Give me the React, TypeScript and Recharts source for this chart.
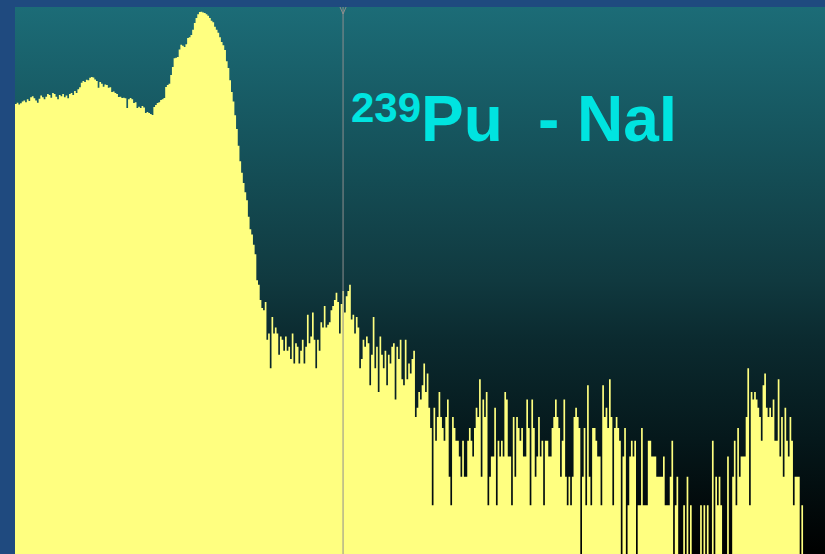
import { Area, AreaChart, ReferenceLine, XAxis, YAxis } from "recharts";

// counts per channel (log display: height ~ log10(counts + 1))
const lowEnergyCounts = [
  600, 610, 595, 605, 620, 630, 615, 640, 625, 660, 670, 650, 630, 610, 645, 675, 660, 640, 665, 690,
  680, 655, 700, 690, 665, 640, 680, 670, 690, 660, 675, 650, 690, 700, 680, 720, 700, 740,
];

const humpCounts = [
  760, 810, 830, 820, 845, 840, 870, 880, 875, 850, 830, 755, 820, 800, 765, 790, 785, 755, 760, 711,
  715, 700, 690, 662, 665, 652, 655, 650, 566, 640, 652, 640, 607, 615, 566, 575, 566, 582, 570, 527,
  535, 527, 520, 513, 574, 590, 607, 615, 634, 640, 652, 763, 786, 800, 905,
];

const peakCounts = [
  1014, 1150, 1155, 1170, 1300, 1390, 1370, 1350, 1400, 1530, 1550, 1600, 1720, 1900, 2040, 2150, 2220,
  2225, 2200, 2190, 2150, 2100, 2040, 1960, 1920, 1800, 1720, 1650, 1550, 1450, 1380, 1290, 1100, 1000,
  840, 710, 620, 510, 420, 330, 265, 225, 194, 170, 152, 120, 100, 93, 80, 70, 48, 45, 36, 32, 31, 35,
];

const comptonCounts = [
  20, 22, 13, 28, 22, 24, 22, 16, 21, 20, 17, 21, 17, 18, 15, 22, 14, 19, 18, 14,
  17, 20, 14, 18, 29, 19, 21, 30, 20, 13, 20, 17, 26, 24, 33, 24, 25, 26, 31, 33,
  36, 40, 35, 22, 34, 41, 30, 38, 41, 45, 27, 29, 22, 28, 24, 13, 15, 20, 18, 21,
  19, 10, 16, 28, 13, 18, 9, 21, 16, 13, 17, 10, 16, 14, 18, 19, 8, 18, 15,
];

const tailCounts = [
  20, 11, 10, 20, 11, 14, 12, 15, 17, 6, 7, 9, 8, 10, 14, 9, 12, 7, 5, 1,
  7, 4, 6, 9, 6, 5, 4, 6, 8, 2, 1, 6, 5, 4, 4, 3, 2, 4, 2, 2,
  4, 5, 4, 3, 5, 7, 6, 11, 2, 8, 6, 9, 1, 2, 3, 3, 7, 1, 4, 3,
  4, 3, 9, 8, 3, 3, 1, 6, 2, 6, 5, 4, 5, 3, 3, 8, 5, 1, 8, 5,
  2, 3, 6, 3, 4, 1, 4, 4, 3, 3, 5, 6, 8, 6, 5, 2, 4, 8, 2, 1,
  2, 1, 2, 6, 7, 6, 5, 0, 2, 5, 1, 10, 2, 1, 5, 5, 4, 3, 3, 1,
  10, 6, 7, 5, 11, 6, 1, 5, 6, 5, 4, 0, 3, 5, 0, 1, 3, 4, 3, 4,
  0, 1, 1, 5, 1, 1, 1, 4, 4, 3, 3, 3, 2, 2, 2, 2, 3, 1, 1, 1,
  2, 4, 0, 1, 2, 0, 0, 0, 1, 0, 2, 0, 1, 0, 0, 0, 0, 0, 1, 0,
  1, 0, 1, 0, 0, 4, 0, 2, 1, 2, 1, 0, 0, 0, 3, 0, 0, 2, 4, 1,
  5, 2, 3, 3, 3, 6, 13, 1, 9, 8, 9, 8, 7, 6, 4, 10, 12, 7, 6, 7,
  6, 8, 4, 4, 11, 3, 6, 2, 7, 4, 3, 6, 4, 1, 2, 2, 2, 0, 1,
  0, 0, 0, 0, 0, 0, 0, 0, 0, 0, 0, 0, 0,
];

const markerChannel = 194.4;
const logTop = 3.377;

const counts = [...lowEnergyCounts, ...humpCounts, ...peakCounts, ...comptonCounts, ...tailCounts];
const data = counts.map((c, ch) => ({ ch, c }));
data.push({ ch: counts.length, c: counts[counts.length - 1] });

const TopMarker = (props: any) => {
  const vb = props.viewBox;
  if (!vb) return null;
  const x = vb.x;
  const y = vb.y;
  return (
    <polyline
      points={`${x - 3},${y} ${x},${y + 7} ${x + 3},${y}`}
      fill="none"
      stroke="#8e8e8e"
      strokeWidth={1}
    />
  );
};

export default function App() {
  return (
    <div
      style={{
        position: "fixed",
        left: 0,
        top: 0,
        width: 825,
        height: 554,
        background: "#1f4a7f",
        overflow: "hidden",
      }}
    >
      <div
        style={{
          position: "absolute",
          left: 15,
          top: 7,
          width: 810,
          height: 547,
          background:
            "linear-gradient(to bottom, #1c6c77 0%, #16565f 22%, #10393f 50%, #0b2a2f 61%, #05181b 79%, #000000 100%)",
        }}
      >
        <AreaChart width={810} height={547} data={data} margin={{ top: 0, right: 0, bottom: 0, left: 0 }}>
          <XAxis type="number" dataKey="ch" domain={[0, counts.length]} hide />
          <YAxis type="number" domain={[0, logTop]} hide />
          <Area
            type="stepAfter"
            dataKey={(d: { c: number }) => Math.log10(d.c + 1)}
            fill="#ffff80"
            fillOpacity={1}
            stroke="none"
            isAnimationActive={false}
          />
          <ReferenceLine x={markerChannel} stroke="#8e8e8e" strokeWidth={1} label={<TopMarker />} />
        </AreaChart>
      </div>
      <svg
        width={825}
        height={554}
        style={{ position: "absolute", left: 0, top: 0, pointerEvents: "none" }}
      >
        <text fontFamily="'Liberation Sans', Arial, sans-serif" fontWeight={700} fill="#00e4e0">
          <tspan x={351} y={122} fontSize={42}>
            239
          </tspan>
          <tspan x={421} y={141} fontSize={64}>
            Pu
          </tspan>
          <tspan x={538} y={141} fontSize={64}>
            - NaI
          </tspan>
        </text>
      </svg>
    </div>
  );
}
